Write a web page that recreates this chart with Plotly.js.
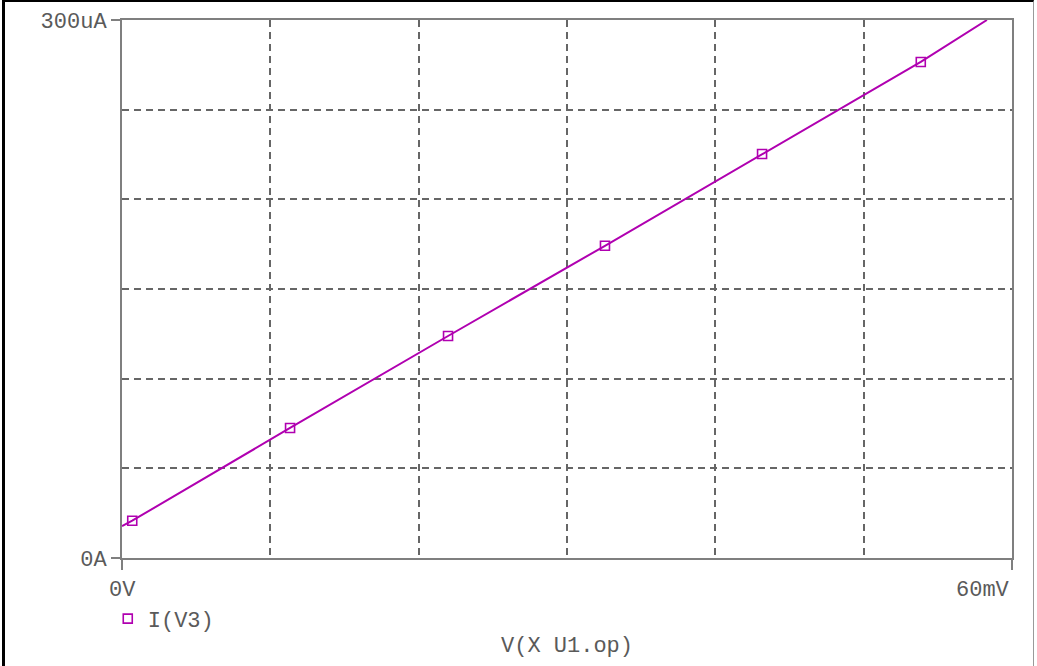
<!DOCTYPE html>
<html>
<head>
<meta charset="utf-8">
<script src="https://cdn.plot.ly/plotly-3.0.1.min.js"></script>
<style>
  html, body { margin: 0; padding: 0; background: #fff; }
  #wrap { position: relative; width: 1037px; height: 666px; overflow: hidden; }
  #chart { position: absolute; left: 0; top: 0; width: 1037px; height: 666px; }
  #frame { position: absolute; left: 2px; top: 0; width: 1032px; height: 666px;
           border-left: 3px solid #000; border-top: 2px solid #000; border-right: 1px solid #999;
           box-sizing: border-box; pointer-events: none; }
</style>
</head>
<body>
<div id="wrap">
  <div id="chart"></div>
  <div id="frame"></div>
</div>
<script>
// Data (x in mV, y in uA)
const lineV    = [0, 0.69, 11.33, 21.98, 32.56, 43.15, 53.85, 58.31];
const lineI    = [17.8, 20.8, 72.5, 123.8, 174.1, 225.3, 276.6, 300];
const markerV  = [0.69, 11.33, 21.98, 32.56, 43.15, 53.85];
const markerI  = [20.8, 72.5, 123.8, 174.1, 225.3, 276.6];
const seriesName = "I(V3)";
const xTickVals = [0, 60];
const xTickText = ["0V", "60mV"];
const yTickVals = [0, 300];
const yTickText = ["0A", "300uA"];
const xGrid = [10, 20, 30, 40, 50];
const yGrid = [50, 100, 150, 200, 250];
const xAxisLabel = "V(X U1.op)";

const purple = "#b000b0";
const grey = "#7f7f7f";
const textGrey = "#5a5a5a";
const fnt = {family: "Liberation Mono, Courier New, monospace", size: 22, color: textGrey};

const traces = [
  {x: lineV, y: lineI, mode: "lines", line: {color: purple, width: 2}, showlegend: false, hoverinfo: "skip"},
  {x: markerV, y: markerI, mode: "markers", name: seriesName,
   marker: {symbol: "square-open", size: 9, color: purple, line: {color: purple, width: 1.6}}}
];

const layout = {
  width: 1037, height: 666,
  margin: {l: 122, r: 25, t: 20, b: 108, pad: 0},
  paper_bgcolor: "#fff", plot_bgcolor: "#fff",
  font: fnt,
  showlegend: true,
  legend: {x: -0.016, y: -0.113, xanchor: "left", yanchor: "middle", font: fnt,
           bgcolor: "rgba(0,0,0,0)", borderwidth: 0},
  xaxis: {
    range: [0, 60], autorange: false, fixedrange: true,
    showline: true, linecolor: grey, linewidth: 2, mirror: true,
    tickvals: xTickVals, ticktext: ["", ""], ticks: "outside", ticklen: 10, tickwidth: 2, tickcolor: grey,
    showgrid: false, zeroline: false,
    minor: {tickvals: xGrid, showgrid: true, gridcolor: "#666", gridwidth: 2, griddash: "7px,5px", ticks: ""}
  },
  yaxis: {
    range: [0, 300], autorange: false, fixedrange: true,
    showline: true, linecolor: grey, linewidth: 2, mirror: true,
    tickvals: yTickVals, ticktext: yTickText, ticks: "outside", ticklen: 9, tickwidth: 2, tickcolor: grey,
    tickfont: fnt, showgrid: false, zeroline: false,
    minor: {tickvals: yGrid, showgrid: true, gridcolor: "#666", gridwidth: 2, griddash: "7px,5px", ticks: ""}
  },
  annotations: [
    {xref: "x", yref: "paper", x: xTickVals[0], y: -0.06, text: xTickText[0], showarrow: false,
     xanchor: "center", yanchor: "middle", font: fnt},
    {xref: "x", yref: "paper", x: xTickVals[1], y: -0.06, text: xTickText[1], showarrow: false,
     xanchor: "right", yanchor: "middle", font: fnt},
    {xref: "paper", yref: "paper", x: 0.5, y: -0.1654, text: xAxisLabel, showarrow: false,
     xanchor: "center", yanchor: "middle", font: fnt}
  ]
};

Plotly.newPlot("chart", traces, layout, {staticPlot: true, displayModeBar: false});
</script>
</body>
</html>
